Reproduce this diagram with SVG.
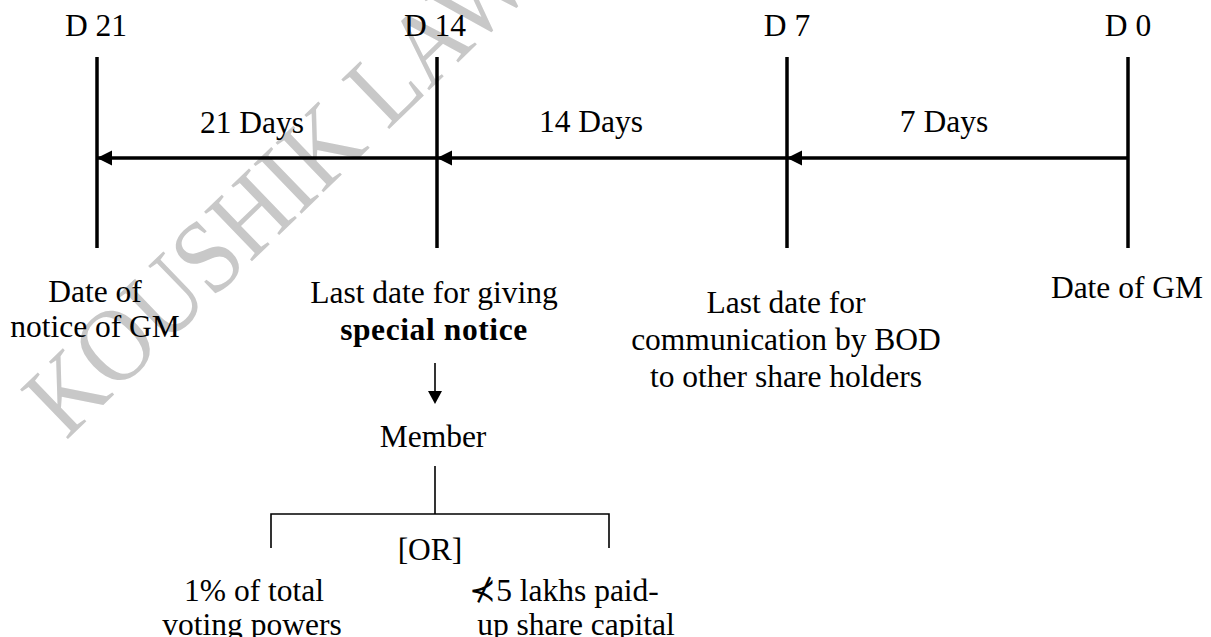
<svg xmlns="http://www.w3.org/2000/svg" width="1211" height="637" viewBox="0 0 1211 637">
  <style>
    .t { font-family: "Liberation Serif", "DejaVu Serif", serif; font-size: 31.5px; fill: #000; text-anchor: middle; }
    .b { font-weight: bold; letter-spacing: 0.6px; }
    .thick { stroke: #000; stroke-width: 3.5; fill: none; }
    .thin { stroke: #000; stroke-width: 1.6; fill: none; }
    .head { fill: #000; stroke: none; }
    .wm { font-family: "Liberation Serif", "DejaVu Serif", serif; font-size: 94px; fill: #c8c8c8; }
  </style>
  <defs>
    <!-- left-pointing arrowhead on the timeline, tip at the origin -->
    <polygon id="headLeft" class="head" points="0,0 15,-7.5 15,7.5"/>
    <!-- down-pointing arrowhead, tip at the origin -->
    <polygon id="headDown" class="head" points="0,0 -7,-13 7,-13"/>
  </defs>

  <rect width="1211" height="637" fill="#fff"/>

  <!-- watermark -->
  <text class="wm" transform="translate(66,441) rotate(-44) scale(1,1.12)">KOUSHIK LAW</text>

  <!-- connectors -->
  <g id="connectors">
    <line class="thick" x1="97" y1="158" x2="1128" y2="158"/>
    <use href="#headLeft" x="97" y="158"/>
    <use href="#headLeft" x="437" y="158"/>
    <use href="#headLeft" x="787" y="158"/>
    <text class="t" x="252" y="133">21 Days</text>
    <text class="t" x="591" y="132">14 Days</text>
    <text class="t" x="944" y="132">7 Days</text>

    <line class="thin" x1="435" y1="363" x2="435" y2="392"/>
    <use href="#headDown" x="435" y="404"/>

    <line class="thin" x1="435" y1="466" x2="435" y2="514"/>
    <path class="thin" d="M271,548 V514 H609 V548"/>
  </g>

  <!-- timeline markers -->
  <g id="d21">
    <line class="thick" x1="97" y1="57" x2="97" y2="248"/>
    <text class="t" x="96" y="36">D 21</text>
    <text class="t" x="95" y="302">Date of</text>
    <text class="t" x="95" y="337">notice of GM</text>
  </g>

  <g id="d14">
    <line class="thick" x1="437" y1="57" x2="437" y2="248"/>
    <text class="t" x="435" y="36">D 14</text>
    <text class="t" x="434" y="303">Last date for giving</text>
    <text class="t b" x="434" y="340">special notice</text>
  </g>

  <g id="d7">
    <line class="thick" x1="787" y1="57" x2="787" y2="248"/>
    <text class="t" x="787" y="36">D 7</text>
    <text class="t" x="786" y="313">Last date for</text>
    <text class="t" x="786" y="350">communication by BOD</text>
    <text class="t" x="786" y="387">to other share holders</text>
  </g>

  <g id="d0">
    <line class="thick" x1="1128" y1="57" x2="1128" y2="248"/>
    <text class="t" x="1128" y="36">D 0</text>
    <text class="t" x="1127" y="298">Date of GM</text>
  </g>

  <!-- who may give the notice -->
  <g id="member">
    <text class="t" x="433" y="447">Member</text>
  </g>

  <g id="or">
    <text class="t" x="430" y="560">[OR]</text>
  </g>

  <g id="opt-voting">
    <text class="t" x="254" y="601">1% of total</text>
    <text class="t" x="252" y="635">voting powers</text>
  </g>

  <g id="opt-capital">
    <text class="t" x="564" y="601">⊀5 lakhs paid-</text>
    <text class="t" x="576" y="635">up share capital</text>
  </g>
</svg>
